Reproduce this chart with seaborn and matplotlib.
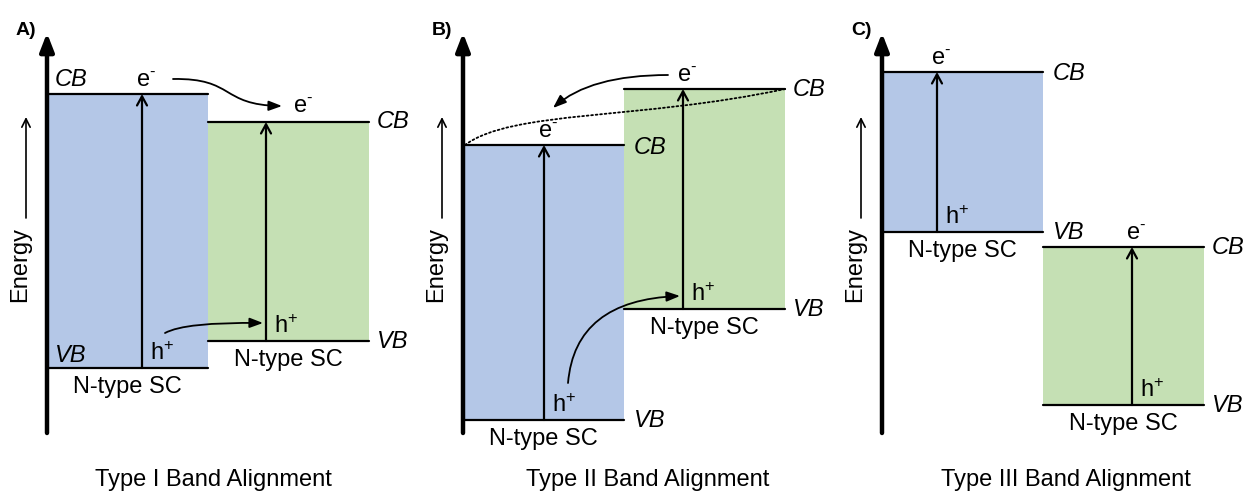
import matplotlib
matplotlib.use('Agg')
import matplotlib.pyplot as plt
from matplotlib.path import Path
from matplotlib.patches import FancyArrowPatch
import pandas as pd
import seaborn as sns

# band edges in arbitrary energy units (blue = left SC, green = right SC)
panel_tags = ['A)', 'B)', 'C)']
titles = ['Type I Band Alignment', 'Type II Band Alignment', 'Type III Band Alignment']
cb_blue = [3.38, 2.87, 3.60]
vb_blue = [0.64, 0.12, 2.00]
cb_green = [3.10, 3.43, 1.85]
vb_green = [0.91, 1.23, 0.27]
# label the electron at the top of the green arrow? (type I: electron moves on)
green_e_label = [False, True, True]

# layout (horizontal pixel positions)
axis_x = [47, 463, 882]
box_w = 161
blue_arrow_x = [142, 544, 937]
green_arrow_x = [266, 683, 1132]
title_x = [213, 648, 1066]

BLUE = '#b4c7e7'
GREEN = '#c5e0b4'


def ey(ypix):
    # pixel row of the reference -> energy units
    return (432 - ypix) / 100.0


sns.set_theme(style='white')
plt.rcParams['font.family'] = ['Liberation Sans', 'DejaVu Sans']
plt.rcParams['text.color'] = 'black'
plt.rcParams['mathtext.fontset'] = 'custom'
plt.rcParams['mathtext.rm'] = 'Liberation Sans'
plt.rcParams['mathtext.it'] = 'Liberation Sans:italic'

fig = plt.figure(figsize=(12.47, 4.94), dpi=100)
ax = fig.add_axes([0, 0, 1, 1])

FS = 17
E_LBL = r'$\mathregular{e^{\text{-}}}$'
H_LBL = r'$\mathregular{h^{+}}$'

# band edge lines through seaborn
rows = []
for i in range(3):
    bx0 = axis_x[i]
    gx0 = bx0 + box_w
    for name, x0, lvl in [('bcb', bx0, cb_blue[i]), ('bvb', bx0, vb_blue[i]),
                          ('gcb', gx0, cb_green[i]), ('gvb', gx0, vb_green[i])]:
        rows.append(dict(line=f'{i}{name}', x=x0, E=lvl))
        rows.append(dict(line=f'{i}{name}', x=x0 + box_w, E=lvl))
df = pd.DataFrame(rows)

for i in range(3):
    bx0 = axis_x[i]
    gx0 = bx0 + box_w
    ax.fill_between([bx0, bx0 + box_w], vb_blue[i], cb_blue[i], color=BLUE, lw=0, zorder=1)
    ax.fill_between([gx0, gx0 + box_w], vb_green[i], cb_green[i], color=GREEN, lw=0, zorder=1)

sns.lineplot(data=df, x='x', y='E', units='line', estimator=None, color='black',
             lw=1.6, ax=ax, zorder=3, legend=False)
ax.set_xlim(0, 1247)
ax.set_ylim(ey(494), ey(0))
ax.axis('off')

for i in range(3):
    bx0 = axis_x[i]
    gx0 = bx0 + box_w
    # energy axis
    ax.annotate('', xy=(bx0, ey(33)), xytext=(bx0, ey(433)),
                arrowprops=dict(arrowstyle='-|>,head_length=0.9,head_width=0.35',
                                lw=3.2, color='black', shrinkA=0, shrinkB=0), zorder=4)
    ax.text(bx0 - 21, ey(30), panel_tags[i], fontsize=14, fontweight='bold',
            ha='center', va='center')
    # Energy label with small arrow
    ax.text(bx0 - 27, ey(265), 'Energy', fontsize=FS, rotation=90, ha='center', va='center')
    ax.annotate('', xy=(bx0 - 21, ey(117)), xytext=(bx0 - 21, ey(218)),
                arrowprops=dict(arrowstyle='->,head_length=0.5,head_width=0.25',
                                lw=1.2, color='black', shrinkA=0, shrinkB=0))
    # excitation arrows
    for k, (axx, vb, cb) in enumerate([(blue_arrow_x[i], vb_blue[i], cb_blue[i]),
                                       (green_arrow_x[i], vb_green[i], cb_green[i])]):
        ax.annotate('', xy=(axx, cb), xytext=(axx, vb),
                    arrowprops=dict(arrowstyle='->,head_length=0.55,head_width=0.3',
                                    lw=1.6, color='black', shrinkA=0, shrinkB=0), zorder=4)
        if k == 0 or green_e_label[i]:
            ax.text(axx + 4, cb + 0.13, E_LBL, fontsize=FS, ha='center', va='center')
        ax.text(axx + 20, vb + 0.14, H_LBL, fontsize=FS, ha='center', va='center')
    # N-type SC labels
    ax.text(bx0 + box_w / 2, vb_blue[i] - 0.19, 'N-type SC', fontsize=FS, ha='center', va='center')
    ax.text(gx0 + box_w / 2, vb_green[i] - 0.19, 'N-type SC', fontsize=FS, ha='center', va='center')
    # CB / VB labels
    ax.text(gx0 + box_w + 24, cb_green[i], 'CB', fontsize=FS, style='italic', ha='center', va='center')
    ax.text(gx0 + box_w + 24, vb_green[i], 'VB', fontsize=FS, style='italic', ha='center', va='center')
    if i == 0:
        ax.text(bx0 + 24, cb_blue[i] + 0.14, 'CB', fontsize=FS, style='italic', ha='center', va='center')
        ax.text(bx0 + 24, vb_blue[i] + 0.13, 'VB', fontsize=FS, style='italic', ha='center', va='center')
    else:
        ax.text(gx0 + 26, cb_blue[i] - 0.02, 'CB', fontsize=FS, style='italic', ha='center', va='center')
        ax.text(gx0 + 26, vb_blue[i], 'VB', fontsize=FS, style='italic', ha='center', va='center')
    ax.text(title_x[i], ey(480), titles[i], fontsize=FS, ha='center', va='center')


def curve(pts, codes, style='-|>,head_length=0.4,head_width=0.15', ls='-', lw=1.3):
    p = Path([(x, ey(y)) for x, y in pts], codes)
    ax.add_patch(FancyArrowPatch(path=p, arrowstyle=style, color='black', lw=lw,
                                 linestyle=ls, mutation_scale=20, zorder=5))


C4 = [Path.MOVETO, Path.CURVE4, Path.CURVE4, Path.CURVE4]
C3 = [Path.MOVETO, Path.CURVE3, Path.CURVE3]

# Type I transfers
curve([(173, 79), (235, 78), (220, 105), (282, 106)], C4)
ax.text(303, ey(107), E_LBL, fontsize=FS, ha='center', va='center')
curve([(165, 333), (185, 322), (263, 323)], C3)

# Type II transfers
curve([(465, 145), (512, 110), (640, 120), (785, 89)], C4, style='-', ls=(0, (1, 1.5)), lw=1.3)
curve([(668, 75), (590, 75), (553, 108)], C3)
curve([(568, 383), (575, 300), (680, 296)], C3)

fig.savefig('out.png', dpi=100)
